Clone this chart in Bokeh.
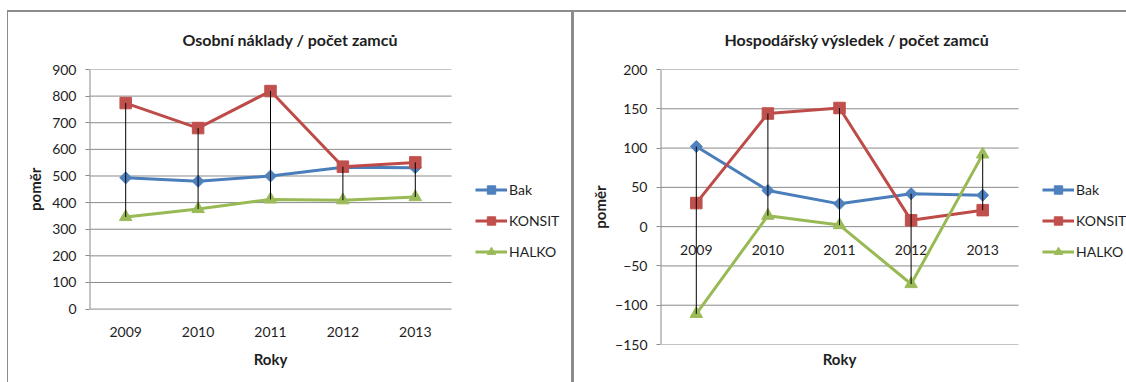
import math

from bokeh.core.properties import value
from bokeh.embed import file_html
from bokeh.layouts import row
from bokeh.models import FixedTicker, Legend, LegendItem, LinearAxis, Range1d
from bokeh.plotting import figure
from bokeh.resources import INLINE

# --- data -------------------------------------------------------------
years = [2009, 2010, 2011, 2012, 2013]
series_names = ["Bak", "KONSIT", "HALKO"]

# Osobní náklady / počet zaměstnanců
naklady_bak = [493, 480, 500, 533, 531]
naklady_konsit = [774, 680, 819, 535, 551]
naklady_halko = [346, 376, 412, 409, 421]
naklady_ticks = [0, 100, 200, 300, 400, 500, 600, 700, 800, 900]

# Hospodářský výsledek / počet zaměstnanců
vysledek_bak = [102, 46, 29, 42, 40]
vysledek_konsit = [30, 144, 151, 8, 21]
vysledek_halko = [-111, 14, 2, -73, 92]
vysledek_ticks = [-150, -100, -50, 0, 50, 100, 150, 200]

titles = ["Osobní náklady / počet zamců", "Hospodářský výsledek / počet zamců"]
x_title = "Roky"
y_title = "poměr"

# --- styling ----------------------------------------------------------
FONT = "Lato"
TEXT = "#1e1e1e"
GRID = "#8a8a8a"
FRAME = "#8c8c8c"
line_colors = ["#4A7EBB", "#BE4B48", "#98B954"]
fill_colors = ["#4F81BD", "#C0504D", "#9BBB59"]
markers = ["square", "square", "triangle"]
marker_sizes = [8.5, 11.5, 12.5]
marker_angles = [math.pi / 4, 0, 0]

X_START = years[0] - 0.5
X_STOP = years[-1] + 0.5
X_MID = years[len(years) // 2]


def style_title_axis(axis):
    """An axis that shows a single bold tick label as its title."""
    axis.axis_line_color = None
    axis.major_tick_line_color = None
    axis.minor_tick_line_color = None
    axis.major_tick_out = 0
    axis.major_tick_in = 0
    axis.major_label_text_font = FONT
    axis.major_label_text_font_style = "bold"
    axis.major_label_text_font_size = "15px"
    axis.major_label_text_color = TEXT


def make_chart(width, left_border, x_end, y_range, y_ticks, series, title,
               title_offset, legend_loc, ytitle_standoff):
    p = figure(width=width, height=382,
               x_range=Range1d(X_START, x_end), y_range=Range1d(*y_range),
               output_backend="svg", toolbar_location=None,
               min_border_left=left_border, min_border_right=0,
               min_border_top=69, min_border_bottom=38)
    p.outline_line_color = None
    p.background_fill_color = None
    p.border_fill_color = None

    p.title.text = title
    p.title.align = "left"
    p.title.offset = title_offset
    p.title.standoff = 42
    p.title.text_font = FONT
    p.title.text_font_style = "bold"
    p.title.text_font_size = "16px"
    p.title.text_color = TEXT

    p.grid.visible = False

    # vertical axis: ticks and labels; its line is drawn over the value span
    yax = p.yaxis[0]
    yax.ticker = FixedTicker(ticks=y_ticks)
    yax.minor_tick_line_color = None
    yax.axis_line_color = None
    yax.major_tick_line_color = GRID
    yax.major_tick_out = 4
    yax.major_tick_in = 0
    yax.major_label_standoff = 9
    yax.major_label_text_font = FONT
    yax.major_label_text_font_size = "14px"
    yax.major_label_text_color = TEXT

    # value-axis title, centred on the tick span
    y_mid = (y_ticks[0] + y_ticks[-1]) / 2
    ytitle = LinearAxis(ticker=FixedTicker(ticks=[y_mid]),
                        major_label_overrides={y_mid: y_title},
                        major_label_orientation="vertical",
                        major_label_standoff=ytitle_standoff)
    style_title_axis(ytitle)
    p.add_layout(ytitle, "left")

    # category-axis title, centred under the years
    xax = p.xaxis[0]
    xax.ticker = FixedTicker(ticks=[X_MID])
    xax.major_label_overrides = {X_MID: x_title}
    xax.major_label_standoff = 5
    style_title_axis(xax)

    # horizontal gridlines across the category span
    n = len(y_ticks)
    p.segment(x0=[X_START] * n, y0=y_ticks, x1=[X_STOP] * n, y1=y_ticks,
              line_color=GRID, line_width=1)
    # value axis line
    p.segment(x0=[X_START], y0=[y_ticks[0]], x1=[X_START], y1=[y_ticks[-1]],
              line_color=GRID, line_width=2)

    # year labels hang just under the zero line
    p.text(x=years, y=[0] * len(years), text=[str(y) for y in years],
           y_offset=23, text_align="center", text_baseline="middle",
           text_font=value(FONT), text_font_size="14px", text_color=TEXT)

    items = []
    for name, vals, lc, fc, mk, ms, ang in zip(series_names, series, line_colors,
                                               fill_colors, markers, marker_sizes,
                                               marker_angles):
        lr = p.line(years, vals, line_color=lc, line_width=3, line_join="round")
        sr = p.scatter(years, vals, marker=mk, size=ms, angle=ang,
                       fill_color=fc, line_color=fc, line_width=1)
        items.append(LegendItem(label=name, renderers=[lr, sr]))

    # high-low lines between the extreme series values in each year
    highs = [max(v) for v in zip(*series)]
    lows = [min(v) for v in zip(*series)]
    p.segment(x0=years, y0=lows, x1=years, y1=highs, line_color="black", line_width=1)

    legend = Legend(items=items, location=legend_loc, padding=0, margin=0,
                    border_line_color=None, background_fill_alpha=0,
                    glyph_width=32, glyph_height=21, label_height=21, spacing=10,
                    label_standoff=2, label_text_font=FONT,
                    label_text_font_size="14px", label_text_color=TEXT)
    p.add_layout(legend)
    return p


# left chart: 0..900 spans 240 px of a 275 px tall plot frame
left_chart = make_chart(
    572, 89, X_START + 483 / 72.4, (-133, 900), naklady_ticks,
    [naklady_bak, naklady_konsit, naklady_halko], titles[0], 93, (386, 82), 5)

right_chart = make_chart(
    554, 88, X_START + 466 / 71.6, (-150, 200), vysledek_ticks,
    [vysledek_bak, vysledek_konsit, vysledek_halko], titles[1], 64, (382, 82), 4)

# chart-area frames: top rule and the left edge of each chart
frame_css = (
    "linear-gradient({c},{c}) 7px 10px / 1119px 2px no-repeat, "
    "linear-gradient({c},{c}) 7px 10px / 1px 380px no-repeat, "
    "linear-gradient({c},{c}) 571px 10px / 3px 380px no-repeat, white"
).format(c=FRAME)

layout = row(left_chart, right_chart, spacing=0,
             styles={"background": frame_css})

with open("out.html", "w") as f:
    f.write(file_html(layout, INLINE))
